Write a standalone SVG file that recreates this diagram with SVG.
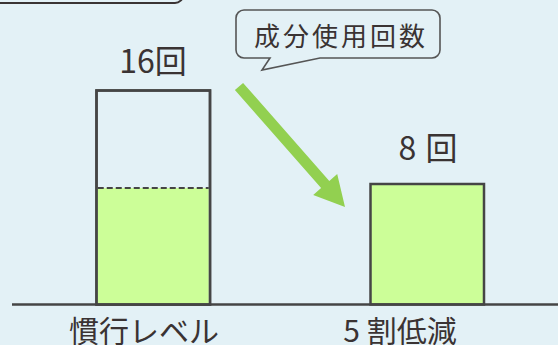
<svg xmlns="http://www.w3.org/2000/svg" width="558" height="345" viewBox="0 0 558 345">
<style>
.t{font-family:"Noto Sans CJK JP","Noto Sans",sans-serif;fill:#3a3333}
.bar{stroke:#454545;stroke-width:2.5}
</style>
<rect width="558" height="345" fill="#e3f1f6"/>
<g id="topbox"><rect x="-10" y="-40" width="193" height="43" rx="8" fill="none" stroke="#3a3434" stroke-width="2"/></g>
<g id="bar1">
<rect x="96.5" y="90.5" width="113.5" height="214" fill="none" class="bar"/>
<rect x="97.75" y="188" width="111" height="116" fill="#ccfe98"/>
<line x1="97.75" y1="188" x2="208.75" y2="188" stroke="#454545" stroke-width="2" stroke-dasharray="6,3"/>
<rect x="96.5" y="90.5" width="113.5" height="214" fill="none" class="bar"/>
<text class="t" x="153" y="73" font-size="32" text-anchor="middle">16回</text>
<text class="t" x="144" y="342" font-size="30" text-anchor="middle">慣行レベル</text>
</g>
<g id="bar2">
<rect x="370.5" y="184" width="113.5" height="120.5" fill="#ccfe98" class="bar"/>
<text class="t" x="428" y="160" font-size="32" text-anchor="middle">8<tspan dx="9">回</tspan></text>
<text class="t" x="400" y="342" font-size="30" text-anchor="middle">5<tspan dx="7">割低減</tspan></text>
</g>
<g id="callout">
<path d="M244,10 H432 A8,8 0 0 1 440,18 V50 A8,8 0 0 1 432,58 H320 L262,70 L270,58 H244 A8,8 0 0 1 236,50 V18 A8,8 0 0 1 244,10 Z" fill="#e3f1f6" stroke="#555" stroke-width="1.6"/>
<text class="t" x="341" y="46" font-size="26" text-anchor="middle" letter-spacing="3">成分使用回数</text>
</g>
<g id="connectors">
<line x1="12" y1="304.5" x2="558" y2="304.5" stroke="#454545" stroke-width="2.5"/>
<polygon points="243.1,82.9 329.3,180.9 337.2,173.9 345,207 313.2,195.1 321.1,188.1 234.9,90.1" fill="#92d050"/>
</g>
</svg>
